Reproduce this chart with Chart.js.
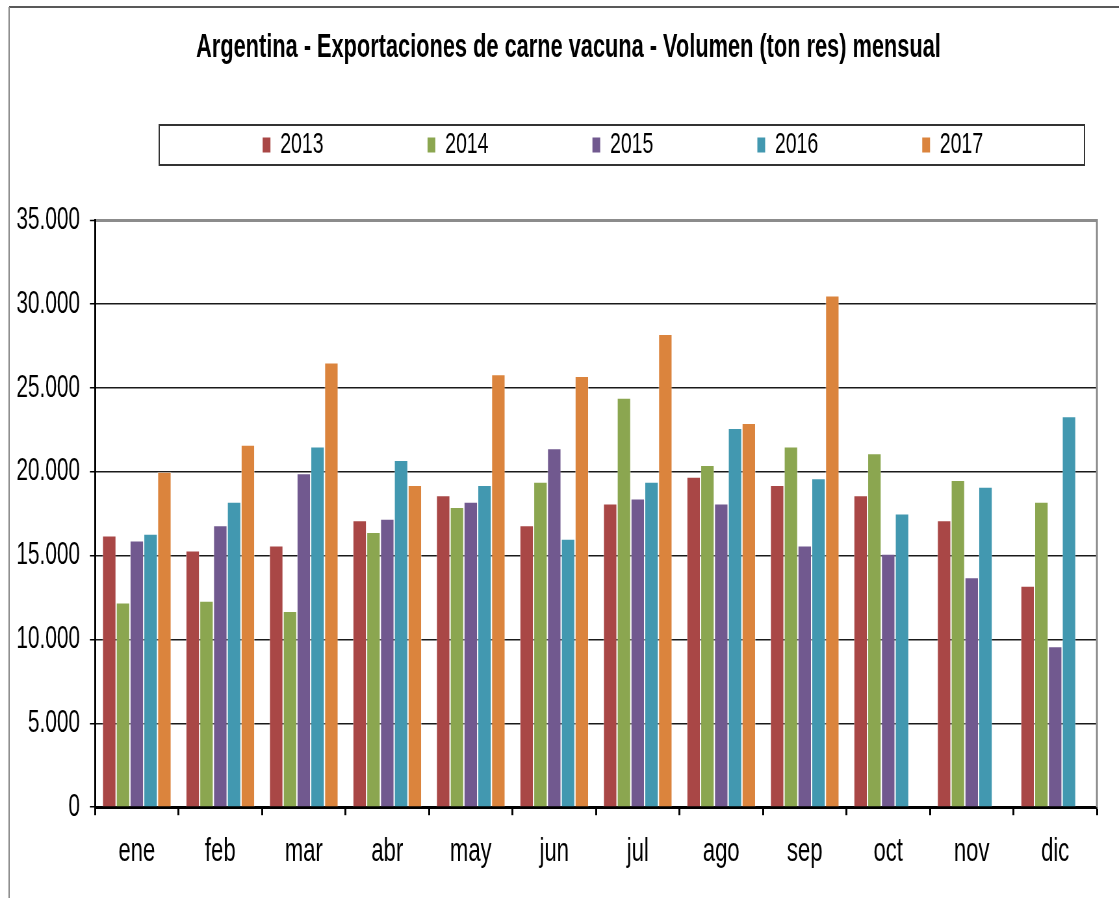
<!DOCTYPE html>
<html>
<head>
<meta charset="utf-8">
<title>Argentina - Exportaciones de carne vacuna</title>
<script src="https://cdn.jsdelivr.net/npm/chart.js@4.4.1/dist/chart.umd.min.js"></script>
<style>
  html, body { margin: 0; padding: 0; background: #fff; overflow: hidden; }
  /* the reference is drawn with very narrow type: draw wide, then squeeze horizontally */
  #wrap { width: 1774px; height: 898px; transform: scaleX(0.6498); transform-origin: 0 0; }
</style>
</head>
<body>
<div id="wrap"><canvas id="chartExport" width="1774" height="898"></canvas></div>
<script>
const FONT = "'Liberation Sans', Arial, sans-serif";

// datos (ton res)
const meses = ['ene', 'feb', 'mar', 'abr', 'may', 'jun', 'jul', 'ago', 'sep', 'oct', 'nov', 'dic'];
const anios = ['2013', '2014', '2015', '2016', '2017'];
const v2013 = [16200, 15300, 15600, 17100, 18600, 16800, 18100, 19700, 19200, 18600, 17100, 13200];
const v2014 = [12200, 12300, 11700, 16400, 17900, 19400, 24400, 20400, 21500, 21100, 19500, 18200];
const v2015 = [15900, 16800, 19900, 17200, 18200, 21400, 18400, 18100, 15600, 15100, 13700, 9600];
const v2016 = [16300, 18200, 21500, 20700, 19200, 16000, 19400, 22600, 19600, 17500, 19100, 23300];
const v2017 = [20000, 21600, 26500, 19200, 25800, 25700, 28200, 22900, 30500, null, null, null];
const yTicks = [0, 5000, 10000, 15000, 20000, 25000, 30000, 35000];

const colores = ['#A94746', '#8BA650', '#71598F', '#4298B0', '#DB843D'];
const series = [v2013, v2014, v2015, v2016, v2017];

function miles(v) {
  return String(v).replace(/\B(?=(\d{3})+(?!\d))/g, '.');
}

// frames: outer border, legend box, right edge of the plot
const marcos = {
  id: 'marcos',
  afterDraw(chart) {
    const ctx = chart.ctx;
    const a = chart.chartArea;
    ctx.save();
    ctx.strokeStyle = '#222';
    ctx.lineWidth = 1.5;
    ctx.beginPath(); ctx.moveTo(14, 7); ctx.lineTo(chart.width, 7); ctx.stroke();
    ctx.strokeStyle = '#888';
    ctx.lineWidth = 2;
    ctx.beginPath(); ctx.moveTo(14, 7); ctx.lineTo(14, chart.height); ctx.stroke();

    ctx.strokeStyle = '#333';
    ctx.lineWidth = 2;
    ctx.strokeRect(245, 125, 1424, 40);

    ctx.strokeStyle = '#8c8c8c';
    ctx.lineWidth = 3;
    ctx.beginPath(); ctx.moveTo(a.right, a.top - 1); ctx.lineTo(a.right, a.bottom); ctx.stroke();
    ctx.restore();
  }
};

const config_export = {
  type: 'bar',
  data: {
    labels: meses,
    datasets: anios.map((a, i) => ({
      label: a,
      data: series[i],
      backgroundColor: colores[i],
      borderColor: 'rgba(255,255,255,0.45)',
      borderWidth: 1,
      borderSkipped: 'bottom',
      categoryPercentage: 0.826,
      barPercentage: 1.0
    }))
  },
  options: {
    responsive: false,
    animation: false,
    layout: { padding: { left: 9.9, right: 34.3, top: 0, bottom: 9 } },
    plugins: {
      tooltip: { enabled: false },
      title: {
        display: true,
        text: 'Argentina - Exportaciones de carne vacuna - Volumen (ton res) mensual',
        color: '#000',
        font: { family: FONT, size: 33.5, weight: 'bold' },
        padding: { top: 27.5, bottom: 52.3 }
      },
      legend: {
        position: 'top',
        align: 'end',
        labels: {
          boxWidth: 12,
          boxHeight: 15,
          padding: 10,
          color: '#000',
          font: { family: FONT, size: 30 },
          generateLabels(chart) {
            const items = Chart.defaults.plugins.legend.labels.generateLabels(chart);
            items.forEach((it, i) => {
              it.text = it.text + ' '.repeat(i === items.length - 1 ? 26 : 18);
              it.lineWidth = 0;
            });
            return items;
          }
        }
      }
    },
    scales: {
      x: {
        grid: { drawOnChartArea: false, drawTicks: true, tickLength: 8, color: '#000', tickColor: '#000', tickWidth: 3, offset: true },
        border: { color: '#000', width: 3 },
        ticks: { padding: 16.5, color: '#000', maxRotation: 0, font: { family: FONT, size: 34 } }
      },
      // spacer between legend and plot
      x2: {
        type: 'category',
        position: 'top',
        grid: { display: false },
        border: { display: false },
        ticks: { display: false },
        afterFit(scale) { scale.height = 50; }
      },
      y: {
        min: 0,
        max: 35000,
        afterBuildTicks(scale) { scale.ticks = yTicks.map(v => ({ value: v })); },
        ticks: {
          padding: 15.25,
          color: '#000',
          font: { family: FONT, size: 32 },
          callback: v => miles(v)
        },
        grid: {
          color: c => (c.tick && c.tick.value === 35000) ? '#8c8c8c' : '#1a1a1a',
          lineWidth: c => (c.tick && c.tick.value === 35000) ? 3 : 1.5,
          drawTicks: true,
          tickLength: 8,
          tickColor: '#000',
          tickWidth: 1.5
        },
        border: { color: '#000', width: 3 }
      },
      // spacer on the right so the title sits where it does in the original
      y2: {
        type: 'linear',
        position: 'right',
        grid: { display: false },
        border: { display: false },
        ticks: { display: false },
        afterFit(scale) { scale.width = 51.6; }
      }
    }
  },
  plugins: [marcos]
};

const ChartExport = new Chart(document.getElementById('chartExport'), config_export);
</script>
</body>
</html>
